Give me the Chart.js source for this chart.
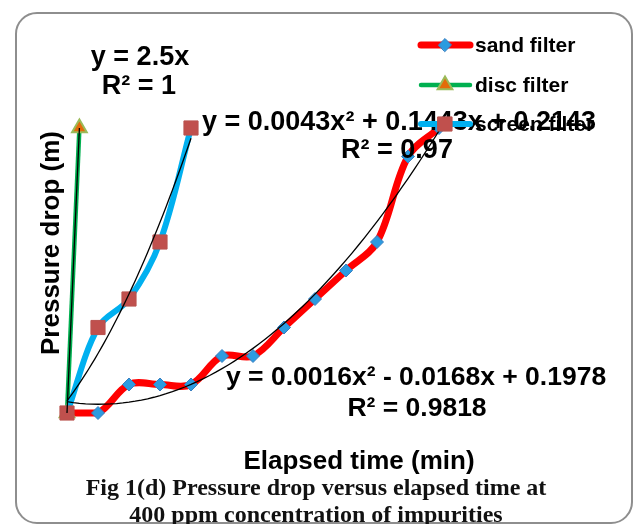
<!DOCTYPE html>
<html>
<head>
<meta charset="utf-8">
<script src="https://cdn.jsdelivr.net/npm/chart.js@4"></script>
<style>
    body { margin: 0; background: #fff; }
    #wrap { position: relative; width: 640px; height: 524px; overflow: hidden; }
    #frame {
        position: absolute; left: 15px; top: 12px; width: 614px; height: 508px;
        border: 2px solid #8e8e8e; border-radius: 22px;
    }
    #chart { position: absolute; left: 0; top: 0; }
    .caption {
        position: absolute; left: 0; width: 632px; text-align: center; line-height: 26px;
        font-family: "Liberation Serif", serif; font-weight: bold; font-size: 24px; color: #111;
    }
</style>
</head>
<body>
<div id="wrap">
    <div id="frame"></div>
    <canvas id="chart" width="640" height="524"></canvas>
    <div class="caption" style="top: 474px;">Fig 1(d) Pressure drop versus elapsed time at</div>
    <div class="caption" style="top: 501px;">400 ppm concentration of impurities</div>
</div>
<script>
// elapsed time (min) and pressure drop (m)
const sandTime = [0, 5, 10, 15, 20, 25, 30, 35, 40, 45, 50, 55, 60];
const sandDrop = [0, 0, 0.5, 0.5, 0.5, 1.0, 1.0, 1.5, 2.0, 2.5, 3.0, 4.5, 5.0];

const discTime = [0, 2];
const discDrop = [0, 5];

const screenTime = [0, 5, 10, 15, 20];
const screenDrop = [0, 1.5, 2.0, 3.0, 5.0];

// trendline coefficients printed on the chart: a*x^2 + b*x + c
const sandFit = [0.0016, -0.0168, 0.1978];
const discFit = [0, 2.5, 0];
const screenFit = [0.0043, 0.1443, 0.2143];

const seriesNames = ['sand filter', 'disc filter', 'screen filter'];

const toPoints = (xs, ys) => xs.map((x, i) => ({ x: x, y: ys[i] }));

const fitPoints = (coef, xMax, step) => {
    const pts = [];
    for (let x = 0; x <= xMax + 1e-9; x += step) {
        pts.push({ x: x, y: coef[0] * x * x + coef[1] * x + coef[2] });
    }
    return pts;
};

const trendStyle = {
    type: 'line',
    borderColor: '#000',
    borderWidth: 1.3,
    pointRadius: 0,
    tension: 0,
    clip: false,
    order: 0
};

const ctx = document.getElementById('chart').getContext('2d');

const BOLD = '"Liberation Sans", Arial, sans-serif';

// axis titles, trendline equations and the legend
const annotations = {
    id: 'annotations',
    afterDatasetsDraw(chart) {
        const c = chart.ctx;
        const ds = chart.data.datasets;
        c.save();
        c.fillStyle = '#000';
        c.textBaseline = 'middle';
        c.font = 'bold 26px ' + BOLD;

        c.textAlign = 'center';
        c.fillText('Elapsed time (min)', 359, 462);
        c.save();
        c.translate(52, 243);
        c.rotate(-Math.PI / 2);
        c.fillText('Pressure drop (m)', 0, 0);
        c.restore();

        c.font = 'bold 27px ' + BOLD;
        c.fillText('y = 2.5x', 140, 58);
        c.fillText('R\u00b2 = 1', 139, 87);
        c.fillText('R\u00b2 = 0.97', 397, 151);
        c.font = 'bold 26.5px ' + BOLD;
        c.fillText('R\u00b2 = 0.9818', 417, 409);
        c.textAlign = 'left';
        c.fillText('y = 0.0016x\u00b2 - 0.0168x + 0.1978', 226, 378);
        c.font = 'bold 27px ' + BOLD;
        c.fillText('y = 0.0043x\u00b2 + 0.1443x + 0.2143', 202, 123);

        // legend: line sample with marker, then name
        const rows = [45, 85, 124];
        c.font = 'bold 21px ' + BOLD;
        for (let i = 0; i < 3; i++) {
            const d = ds[i];
            const y = rows[i];
            c.beginPath();
            c.lineCap = 'round';
            c.strokeStyle = d.borderColor;
            c.lineWidth = d.borderWidth;
            c.moveTo(421, y);
            c.lineTo(470, y);
            c.stroke();
            c.fillStyle = d.pointBackgroundColor;
            c.strokeStyle = d.pointBorderColor;
            c.lineWidth = d.pointBorderWidth;
            Chart.helpers.drawPoint(c, {
                pointStyle: d.pointStyle,
                radius: d.pointRadius,
                rotation: 0,
                borderWidth: d.pointBorderWidth
            }, 445, y);
            c.fillStyle = '#000';
            c.fillText(seriesNames[i], 475, y + 1);
        }
        c.restore();
    }
};

new Chart(ctx, {
    type: 'line',
    data: {
        datasets: [
            {
                label: seriesNames[0],
                data: toPoints(sandTime, sandDrop),
                borderColor: '#ff0000',
                borderWidth: 7,
                tension: 0.35,
                pointStyle: 'rectRot',
                pointRadius: 6.5,
                pointBackgroundColor: '#2c9be0',
                pointBorderColor: '#3a7fc0',
                pointBorderWidth: 1,
                clip: false,
                order: 3
            },
            {
                label: seriesNames[1],
                data: toPoints(discTime, discDrop),
                borderColor: '#00b050',
                borderWidth: 4.5,
                tension: 0,
                pointStyle: 'triangle',
                pointRadius: 8.5,
                pointBackgroundColor: '#e36c0a',
                pointBorderColor: '#9bbb59',
                pointBorderWidth: 2,
                clip: false,
                order: 2
            },
            {
                label: seriesNames[2],
                data: toPoints(screenTime, screenDrop),
                borderColor: '#00b0f0',
                borderWidth: 6,
                tension: 0.35,
                pointStyle: 'rect',
                pointRadius: 10,
                pointBackgroundColor: '#c0504d',
                pointBorderColor: '#b9534f',
                pointBorderWidth: 1,
                clip: false,
                order: 1
            },
            Object.assign({ data: fitPoints(sandFit, 60, 1) }, trendStyle),
            Object.assign({ data: fitPoints(discFit, 2, 2) }, trendStyle),
            Object.assign({ data: fitPoints(screenFit, 20, 0.5) }, trendStyle)
        ]
    },
    options: {
        responsive: false,
        animation: false,
        layout: { padding: { left: 67, right: 15, top: 71, bottom: 111 } },
        scales: {
            x: { type: 'linear', min: 0, max: 90, display: false },
            y: { min: 0, max: 6, display: false }
        },
        plugins: {
            legend: { display: false },
            tooltip: { enabled: false }
        }
    },
    plugins: [annotations]
});
</script>
</body>
</html>
